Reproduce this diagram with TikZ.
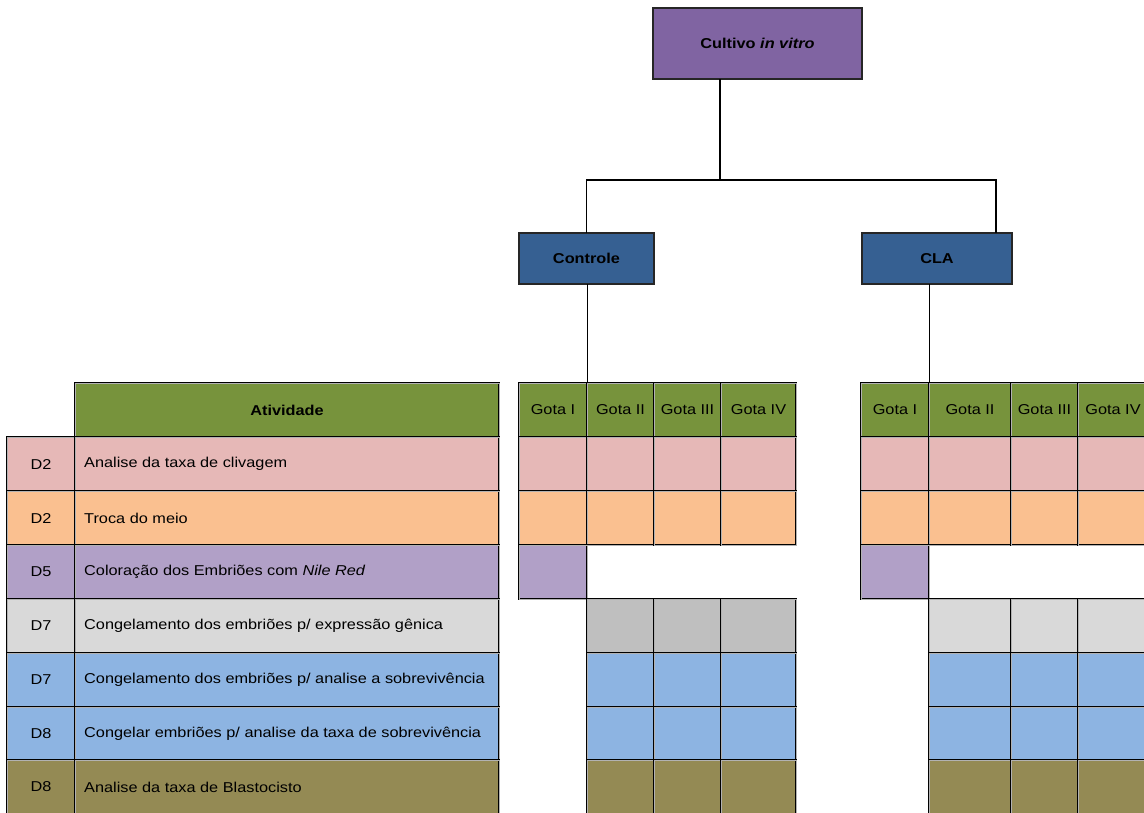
\documentclass[tikz,border=0pt]{standalone}
\usepackage{fontspec}
\setmainfont[FakeStretch=1.14]{Liberation Sans}
\definecolor{topc}{HTML}{8064A2}
\definecolor{bluec}{HTML}{366092}
\definecolor{greenc}{HTML}{77933C}
\definecolor{pinkc}{HTML}{E6B8B7}
\definecolor{orangec}{HTML}{FAC090}
\definecolor{lilac}{HTML}{B1A0C7}
\definecolor{greyl}{HTML}{D9D9D9}
\definecolor{greyd}{HTML}{BFBFBF}
\definecolor{bluel}{HTML}{8DB4E2}
\definecolor{olivec}{HTML}{948A54}
\newcommand{\tcell}[7]{\node[tcell, fill=#6, minimum width={(#4-#2)*1pt}, minimum height={(#5-#3)*1pt}] (#1) at ({(#2+#4)/2},{(#3+#5)/2}) {#7};}
\tikzset{
  tcell/.style={draw=black, line width=0.6pt, double=gray!60, double distance=1pt, inner sep=0pt, outer sep=0pt, text=black},
  boxn/.style={draw=black!85, line width=1.2pt, inner sep=0pt, outer sep=0pt, text=black, font=\fontsize{14.3}{17}\selectfont\bfseries},
  lbl/.style={anchor=west, inner sep=0pt, text=black},
  conn/.style={line width=1.7pt, black},
  thinconn/.style={line width=0.8pt, black}
}
\begin{document}
\begin{tikzpicture}[x=1pt, y=-1pt, every node/.append style={font=\fontsize{14.3}{17}\selectfont}]
\useasboundingbox (0,0) rectangle (1144,812);
\clip (0,0) rectangle (1144,812);
\fill[white] (0,0) rectangle (1144,812);

% hierarchy boxes
\node[boxn, fill=topc, minimum width=209pt, minimum height=71pt] (top) at (757.5,43.5) {Cultivo \textit{in vitro}};
\node[boxn, fill=bluec, minimum width=135pt, minimum height=51pt] (ctrl) at (586.5,258.5) {Controle};
\node[boxn, fill=bluec, minimum width=150pt, minimum height=51pt] (cla) at (937,258.5) {CLA};
\coordinate (j) at (720,180);
\coordinate (jr) at (996,180);

% left table
\tcell{hA}{75}{383}{499}{437}{greenc}{\textbf{Atividade}}
\tcell{d1}{7}{437}{75}{491}{pinkc}{D2}
\tcell{a1}{75}{437}{499}{491}{pinkc}{}
\tcell{d2}{7}{491}{75}{545}{orangec}{D2}
\tcell{a2}{75}{491}{499}{545}{orangec}{}
\tcell{d3}{7}{545}{75}{599}{lilac}{D5}
\tcell{a3}{75}{545}{499}{599}{lilac}{}
\tcell{d4}{7}{599}{75}{653}{greyl}{D7}
\tcell{a4}{75}{599}{499}{653}{greyl}{}
\tcell{d5}{7}{653}{75}{707}{bluel}{D7}
\tcell{a5}{75}{653}{499}{707}{bluel}{}
\tcell{d6}{7}{707}{75}{760}{bluel}{D8}
\tcell{a6}{75}{707}{499}{760}{bluel}{}
\tcell{d7}{7}{760}{75}{814}{olivec}{D8}
\tcell{a7}{75}{760}{499}{814}{olivec}{}
\node[lbl] (t1) at (84,464) {Analise da taxa de clivagem};
\node[lbl] (t2) at (84,518) {Troca do meio};
\node[lbl] (t3) at (84,572) {Coloração dos Embriões com \textit{Nile Red}};
\node[lbl] (t4) at (84,626) {Congelamento dos embriões p/ expressão gênica};
\node[lbl] (t5) at (84,680) {Congelamento dos embriões p/ analise a sobrevivência};
\node[lbl] (t6) at (84,733.5) {Congelar embriões p/ analise da taxa de sobrevivência};
\node[lbl] (t7) at (84,787) {Analise da taxa de Blastocisto};

% Controle grid
\tcell{cH1}{519}{383}{587}{437}{greenc}{Gota I}
\tcell{cH2}{587}{383}{654}{437}{greenc}{Gota II}
\tcell{cH3}{654}{383}{721}{437}{greenc}{Gota III}
\tcell{cH4}{721}{383}{796}{437}{greenc}{Gota IV}
\foreach \xa/\xb/\k in {519/587/1,587/654/2,654/721/3,721/796/4}{
  \tcell{cA\k}{\xa}{437}{\xb}{491}{pinkc}{}
  \tcell{cB\k}{\xa}{491}{\xb}{545}{orangec}{}
}
\tcell{cC1}{519}{545}{587}{599}{lilac}{}
\foreach \xa/\xb/\k in {587/654/2,654/721/3,721/796/4}{
  \tcell{cD\k}{\xa}{599}{\xb}{653}{greyd}{}
  \tcell{cE\k}{\xa}{653}{\xb}{707}{bluel}{}
  \tcell{cF\k}{\xa}{707}{\xb}{760}{bluel}{}
  \tcell{cG\k}{\xa}{760}{\xb}{814}{olivec}{}
}

% CLA grid
\tcell{kH1}{861}{383}{929}{437}{greenc}{Gota I}
\tcell{kH2}{929}{383}{1011}{437}{greenc}{Gota II}
\tcell{kH3}{1011}{383}{1078}{437}{greenc}{Gota III}
\tcell{kH4}{1078}{383}{1148}{437}{greenc}{Gota IV}
\foreach \xa/\xb/\k in {861/929/1,929/1011/2,1011/1078/3,1078/1148/4}{
  \tcell{kA\k}{\xa}{437}{\xb}{491}{pinkc}{}
  \tcell{kB\k}{\xa}{491}{\xb}{545}{orangec}{}
}
\tcell{kC1}{861}{545}{929}{599}{lilac}{}
\foreach \xa/\xb/\k in {929/1011/2,1011/1078/3,1078/1148/4}{
  \tcell{kD\k}{\xa}{599}{\xb}{653}{greyl}{}
  \tcell{kE\k}{\xa}{653}{\xb}{707}{bluel}{}
  \tcell{kF\k}{\xa}{707}{\xb}{760}{bluel}{}
  \tcell{kG\k}{\xa}{760}{\xb}{814}{olivec}{}
}

% connectors
\draw[conn] (top.south -| j) -- (j);
\draw[conn] (ctrl.north) |- (jr) -- (cla.north -| jr);
\draw[thinconn] (ctrl.south -| cH1.east) -- (cH1.north east);
\draw[thinconn] (cla.south -| kH1.east) -- (kH1.north east);
\end{tikzpicture}
\end{document}
